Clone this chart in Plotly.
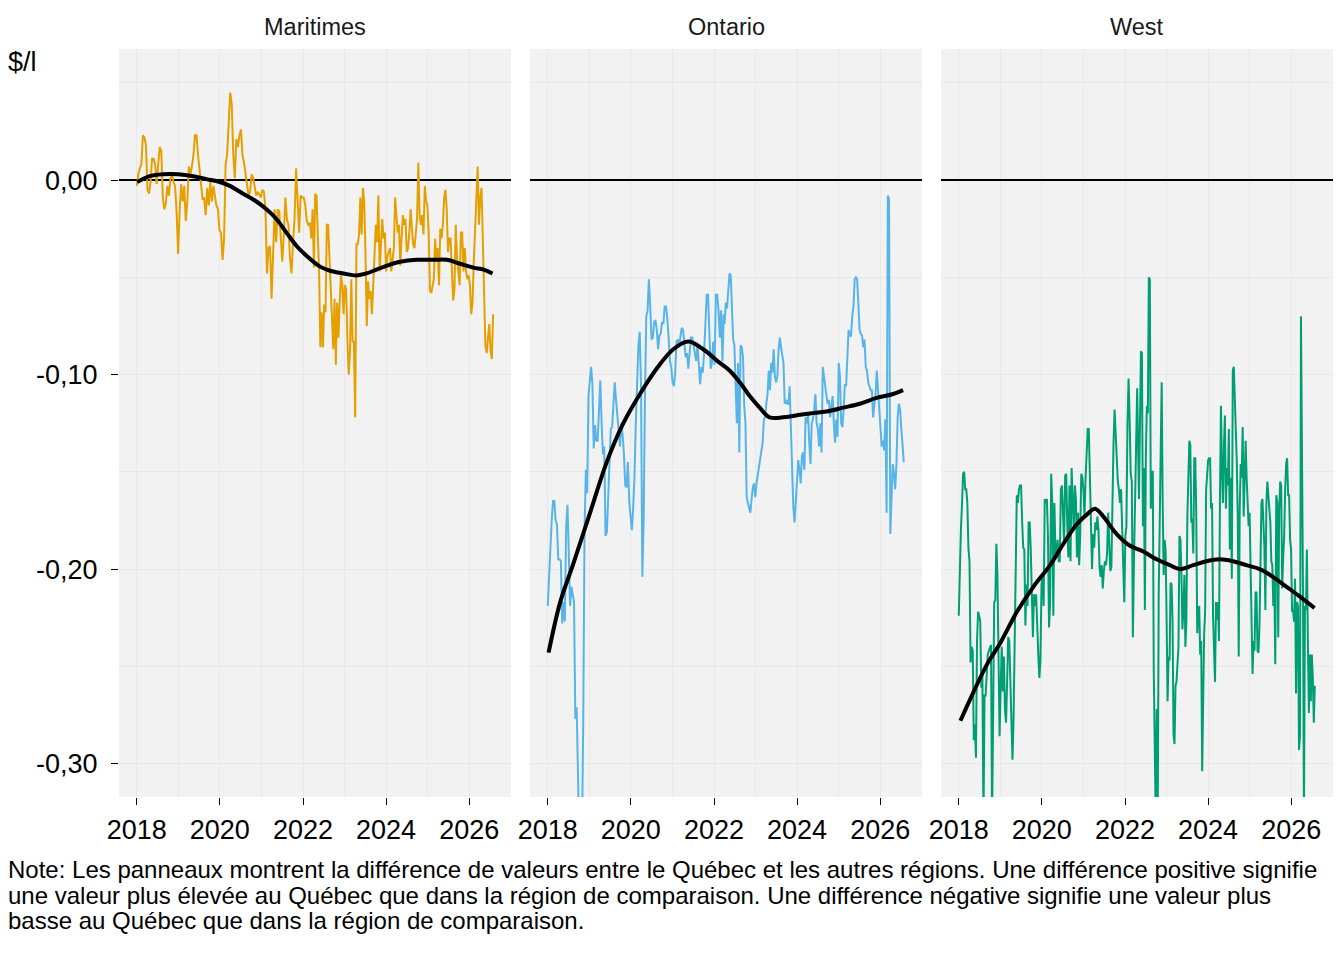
import pandas as pd
import plotly.graph_objects as go

# ---------------- data (values in $/l) ----------------
regions = ["Maritimes", "Ontario", "West"]
line_colors = ["#E69F00", "#56B4E9", "#009E73"]

# Raw weekly-ish series, split into two halves with their date spans
maritimes_span_a = ("2018-01-01", "2022-02-17")
maritimes_a = [
    -0.003, 0.003, 0.006, 0.008, 0.023, 0.022, 0.018, -0.005, -0.007, -0.001, 0.011, 0.011, 0.008,
    -0.002, 0.008, 0.017, 0.015, -0.009, -0.015, -0.012, -0.003, -0.008, 0.001, 0.003, -0.001,
    -0.003, -0.016, -0.038, -0.016, -0.002, -0.011, -0.003, -0.021, -0.011, 0.007, 0.003, 0.007,
    0.013, 0.023, 0.023, 0.013, 0.006, -0.003, -0.010, -0.009, -0.018, -0.004, -0.013, -0.001,
    -0.011, -0.003, -0.008, -0.013, -0.015, -0.026, -0.027, -0.041, -0.030, 0.008, 0.013, 0.029,
    0.045, 0.039, 0.013, 0.001, 0.021, 0.017, 0.023, 0.026, 0.013, 0.009, 0.004, -0.003, -0.008,
    -0.006, 0.003, 0.001, -0.003, -0.008, -0.006, -0.008, -0.009, -0.005, -0.006, -0.015, -0.048,
    -0.035, -0.034, -0.061, -0.033, -0.015, -0.032, -0.015, -0.016, -0.032, -0.042, -0.028, -0.009,
    -0.020, -0.023, -0.040, -0.048, -0.032, -0.020, 0.006, -0.009, -0.027, -0.008, -0.009, -0.009,
    -0.013, -0.021, -0.023,
]
maritimes_span_b = ("2022-03-04", "2026-07-30")
maritimes_b = [
    -0.022, -0.030, -0.015, -0.045, -0.007, -0.008, -0.028, -0.047, -0.086, -0.068, -0.086, -0.064,
    -0.068, -0.023, -0.023, -0.039, -0.064, -0.078, -0.087, -0.061, -0.095, -0.063, -0.081, -0.063,
    -0.049, -0.054, -0.069, -0.054, -0.056, -0.083, -0.100, -0.088, -0.051, -0.083, -0.083, -0.122,
    -0.033, -0.033, -0.028, -0.009, -0.028, -0.004, -0.011, -0.037, -0.075, -0.052, -0.061, -0.057,
    -0.069, -0.054, -0.039, -0.023, -0.032, -0.008, -0.047, -0.033, -0.020, -0.030, -0.027, -0.047,
    -0.039, -0.037, -0.035, -0.047, -0.040, -0.035, -0.009, -0.016, -0.027, -0.023, -0.044, -0.030,
    -0.018, -0.023, -0.020, -0.037, -0.035, -0.027, -0.015, -0.025, -0.033, -0.035, -0.027, -0.020,
    0.009, -0.018, -0.023, -0.018, -0.028, -0.003, -0.011, -0.013, -0.027, -0.057, -0.058, -0.054,
    -0.051, -0.030, -0.042, -0.035, -0.054, -0.025, -0.030, -0.023, -0.009, -0.005, -0.015, -0.037,
    -0.030, -0.030, -0.045, -0.062, -0.056, -0.023, -0.040, -0.047, -0.054, -0.027, -0.027, -0.047,
    -0.035, -0.047, -0.051, -0.049, -0.054, -0.069, -0.063, -0.042, -0.025, -0.001, 0.007, -0.023,
    -0.009, -0.004, -0.033, -0.069, -0.085, -0.089, -0.081, -0.074, -0.088, -0.092, -0.069,
]

ontario_span_a = ("2018-01-01", "2022-03-28")
ontario_a = [
    -0.219, -0.202, -0.187, -0.175, -0.165, -0.165, -0.175, -0.177, -0.195, -0.195, -0.196, -0.228,
    -0.217, -0.227, -0.179, -0.167, -0.191, -0.219, -0.209, -0.213, -0.217, -0.277, -0.271, -0.305,
    -0.340, -0.340, -0.340, -0.279, -0.181, -0.149, -0.161, -0.111, -0.104, -0.096, -0.105, -0.138,
    -0.126, -0.134, -0.134, -0.120, -0.103, -0.125, -0.141, -0.137, -0.183, -0.181, -0.165, -0.151,
    -0.128, -0.127, -0.113, -0.104, -0.113, -0.121, -0.133, -0.137, -0.125, -0.131, -0.141, -0.157,
    -0.158, -0.145, -0.165, -0.171, -0.180, -0.169, -0.153, -0.125, -0.103, -0.085, -0.078, -0.105,
    -0.204, -0.175, -0.111, -0.070, -0.067, -0.051, -0.065, -0.082, -0.081, -0.073, -0.072, -0.077,
    -0.087, -0.080, -0.079, -0.073, -0.074, -0.065, -0.065, -0.071, -0.081, -0.093, -0.096, -0.104,
    -0.106, -0.099, -0.083, -0.082, -0.085, -0.081, -0.076, -0.077, -0.085, -0.091, -0.089, -0.097,
    -0.089, -0.081, -0.081, -0.085, -0.087, -0.093, -0.085, -0.096, -0.105, -0.096, -0.099, -0.089,
    -0.075, -0.059, -0.059, -0.085, -0.097, -0.094, -0.083, -0.095, -0.059, -0.059, -0.067, -0.081,
    -0.067, -0.093, -0.069,
]
ontario_span_b = ("2022-04-04", "2026-07-27")
ontario_b = [
    -0.074, -0.063, -0.066, -0.057, -0.048, -0.049, -0.063, -0.082, -0.085, -0.108, -0.125, -0.094,
    -0.140, -0.085, -0.086, -0.091, -0.116, -0.125, -0.163, -0.166, -0.168, -0.171, -0.164, -0.158,
    -0.156, -0.163, -0.156, -0.152, -0.146, -0.142, -0.140, -0.135, -0.123, -0.122, -0.115, -0.110,
    -0.098, -0.108, -0.094, -0.099, -0.087, -0.101, -0.104, -0.101, -0.087, -0.081, -0.086, -0.091,
    -0.094, -0.115, -0.113, -0.115, -0.115, -0.106, -0.125, -0.155, -0.168, -0.176, -0.164, -0.156,
    -0.144, -0.149, -0.156, -0.142, -0.140, -0.149, -0.122, -0.125, -0.120, -0.135, -0.146, -0.125,
    -0.123, -0.118, -0.110, -0.125, -0.128, -0.137, -0.125, -0.140, -0.096, -0.101, -0.108, -0.111,
    -0.115, -0.113, -0.122, -0.115, -0.111, -0.125, -0.135, -0.123, -0.132, -0.094, -0.101, -0.125,
    -0.127, -0.118, -0.105, -0.106, -0.091, -0.077, -0.080, -0.080, -0.070, -0.065, -0.051, -0.050,
    -0.051, -0.069, -0.077, -0.079, -0.080, -0.086, -0.082, -0.096, -0.098, -0.104, -0.106, -0.108,
    -0.108, -0.122, -0.116, -0.110, -0.098, -0.108, -0.115, -0.128, -0.137, -0.134, -0.139, -0.123,
    -0.171, -0.008, -0.010, -0.182, -0.164, -0.146, -0.151, -0.159, -0.146, -0.122, -0.115, -0.118,
    -0.128, -0.137, -0.145,
]

west_span_a = ("2018-01-01", "2022-04-18")
west_a = [
    -0.224, -0.199, -0.180, -0.167, -0.151, -0.150, -0.159, -0.159, -0.166, -0.189, -0.196, -0.248,
    -0.240, -0.242, -0.288, -0.280, -0.297, -0.237, -0.222, -0.224, -0.227, -0.261, -0.254, -0.330,
    -0.265, -0.265, -0.251, -0.244, -0.242, -0.240, -0.239, -0.330, -0.267, -0.217, -0.216, -0.187,
    -0.203, -0.261, -0.286, -0.261, -0.240, -0.263, -0.245, -0.272, -0.279, -0.258, -0.235, -0.237,
    -0.254, -0.272, -0.298, -0.277, -0.235, -0.189, -0.162, -0.166, -0.159, -0.157, -0.157, -0.176,
    -0.189, -0.190, -0.229, -0.208, -0.219, -0.176, -0.176, -0.190, -0.224, -0.235, -0.213, -0.219,
    -0.213, -0.233, -0.244, -0.256, -0.247, -0.208, -0.203, -0.219, -0.164, -0.166, -0.164, -0.183,
    -0.230, -0.217, -0.151, -0.166, -0.224, -0.166, -0.192, -0.192, -0.185, -0.196, -0.196, -0.159,
    -0.157, -0.171, -0.187, -0.152, -0.151, -0.178, -0.194, -0.157, -0.196, -0.148, -0.169, -0.180,
    -0.157, -0.164, -0.194, -0.171, -0.198, -0.183, -0.151, -0.153, -0.159, -0.173, -0.153, -0.142,
    -0.128, -0.128, -0.159, -0.189, -0.200, -0.182, -0.189, -0.176, -0.180, -0.173, -0.180, -0.199,
    -0.204, -0.198, -0.210, -0.201, -0.196, -0.198, -0.192, -0.171, -0.187, -0.201, -0.199, -0.155,
    -0.135, -0.118, -0.130, -0.146, -0.155, -0.159, -0.166, -0.159, -0.176, -0.196, -0.217, -0.183,
    -0.178, -0.125, -0.102, -0.123, -0.151, -0.155, -0.235, -0.196, -0.171, -0.132, -0.107,
]
west_span_b = ("2022-04-25", "2026-07-27")
west_b = [
    -0.132, -0.164, -0.127, -0.088, -0.089, -0.178, -0.148, -0.221, -0.141, -0.116, -0.120, -0.050,
    -0.051, -0.169, -0.150, -0.150, -0.253, -0.295, -0.330, -0.272, -0.330, -0.213, -0.166, -0.116,
    -0.104, -0.164, -0.203, -0.185, -0.191, -0.226, -0.268, -0.245, -0.247, -0.207, -0.208, -0.226,
    -0.285, -0.290, -0.260, -0.258, -0.247, -0.240, -0.183, -0.185, -0.203, -0.231, -0.221, -0.203,
    -0.240, -0.227, -0.173, -0.144, -0.134, -0.136, -0.176, -0.174, -0.192, -0.143, -0.143, -0.171,
    -0.233, -0.222, -0.219, -0.244, -0.237, -0.304, -0.256, -0.233, -0.222, -0.159, -0.152, -0.144,
    -0.143, -0.143, -0.169, -0.166, -0.224, -0.247, -0.258, -0.217, -0.226, -0.217, -0.237, -0.164,
    -0.116, -0.148, -0.166, -0.137, -0.121, -0.169, -0.148, -0.157, -0.128, -0.190, -0.153, -0.205,
    -0.098, -0.096, -0.109, -0.123, -0.144, -0.173, -0.245, -0.169, -0.146, -0.153, -0.127, -0.173,
    -0.146, -0.134, -0.153, -0.166, -0.178, -0.171, -0.199, -0.221, -0.254, -0.237, -0.242, -0.212,
    -0.212, -0.242, -0.243, -0.229, -0.194, -0.166, -0.164, -0.180, -0.189, -0.221, -0.166, -0.155,
    -0.162, -0.171, -0.176, -0.196, -0.198, -0.219, -0.205, -0.249, -0.162, -0.166, -0.235, -0.169,
    -0.155, -0.157, -0.210, -0.194, -0.183, -0.159, -0.146, -0.143, -0.162, -0.162, -0.185, -0.190,
    -0.222, -0.221, -0.227, -0.205, -0.264, -0.217, -0.219, -0.293, -0.286, -0.070, -0.139, -0.206,
    -0.330, -0.219, -0.221, -0.190, -0.237, -0.274, -0.244, -0.268, -0.244, -0.256, -0.279, -0.260,
]

# Smoothed trend (loess-like) points: decimal years and values
maritimes_trend_years = [2018.01, 2018.31, 2018.63, 2019.0, 2019.36, 2019.68, 2020.0, 2020.24, 2020.56,
                         2020.88, 2021.12, 2021.36, 2021.6, 2021.85, 2022.09, 2022.41, 2022.65, 2022.97,
                         2023.29, 2023.53, 2023.77, 2024.02, 2024.34, 2024.74, 2025.14, 2025.46, 2025.78,
                         2026.1, 2026.35, 2026.56]
maritimes_trend = [-0.001, 0.002, 0.003, 0.003, 0.002, 0.0005, -0.001, -0.003, -0.007,
                   -0.011, -0.015, -0.020, -0.027, -0.034, -0.039, -0.0445, -0.0466, -0.048,
                   -0.049, -0.048, -0.046, -0.044, -0.042, -0.041, -0.041, -0.041, -0.043,
                   -0.045, -0.046, -0.048]

ontario_trend_years = [2018.02, 2018.30, 2018.62, 2019.02, 2019.42, 2019.82, 2020.22, 2020.62, 2021.02,
                       2021.38, 2021.74, 2022.14, 2022.38, 2022.62, 2022.86, 2023.10, 2023.34, 2023.66,
                       2023.98, 2024.31, 2024.71, 2025.11, 2025.51, 2025.91, 2026.31, 2026.55]
ontario_trend = [-0.243, -0.217, -0.197, -0.171, -0.145, -0.125, -0.110, -0.097, -0.087,
                 -0.083, -0.087, -0.094, -0.098, -0.104, -0.111, -0.117, -0.122, -0.122,
                 -0.121, -0.120, -0.119, -0.117, -0.115, -0.112, -0.110, -0.108]

west_trend_years = [2018.04, 2018.36, 2018.68, 2019.0, 2019.4, 2019.8, 2020.2, 2020.52, 2020.84,
                    2021.08, 2021.28, 2021.48, 2021.8, 2022.12, 2022.44, 2022.76, 2023.08, 2023.32,
                    2023.64, 2023.96, 2024.28, 2024.6, 2024.92, 2025.24, 2025.56, 2025.88, 2026.2,
                    2026.56]
west_trend = [-0.278, -0.263, -0.249, -0.238, -0.222, -0.209, -0.198, -0.187, -0.177,
              -0.172, -0.169, -0.173, -0.182, -0.188, -0.191, -0.195, -0.198, -0.200,
              -0.198, -0.196, -0.195, -0.196, -0.198, -0.200, -0.204, -0.209, -0.214,
              -0.220]

x_tick_years = [2018, 2020, 2022, 2024, 2026]
x_minor_years = [2019, 2021, 2023, 2025]
y_tick_values = [-0.3, -0.2, -0.1, 0.0]
y_tick_labels = ["-0,30", "-0,20", "-0,10", "0,00"]
y_minor_values = [-0.25, -0.15, -0.05, 0.05]

note_lines = [
    "Note: Les panneaux montrent la différence de valeurs entre le Québec et les autres régions. Une différence positive signifie",
    "une valeur plus élevée au Québec que dans la région de comparaison. Une différence négative signifie une valeur plus",
    "basse au Québec que dans la région de comparaison.",
]
y_title = "$/l"


# ---------------- helpers ----------------
def series_dates(span, values):
    return pd.date_range(span[0], span[1], periods=len(values))


def year_to_date(y):
    base = int(y)
    return pd.Timestamp(year=base, month=1, day=1) + pd.Timedelta(days=(y - base) * 365.25)


raw = [
    (maritimes_span_a, maritimes_a, maritimes_span_b, maritimes_b),
    (ontario_span_a, ontario_a, ontario_span_b, ontario_b),
    (west_span_a, west_a, west_span_b, west_b),
]
trends = [
    (maritimes_trend_years, maritimes_trend),
    (ontario_trend_years, ontario_trend),
    (west_trend_years, west_trend),
]

FONT = "Liberation Sans, Arial, sans-serif"
fig = go.Figure()

for i, (region, color) in enumerate(zip(regions, line_colors)):
    sa, va, sb, vb = raw[i]
    xs = list(series_dates(sa, va)) + list(series_dates(sb, vb))
    ys = list(va) + list(vb)
    xa = "x" if i == 0 else f"x{i + 1}"
    ya = "y" if i == 0 else f"y{i + 1}"
    fig.add_trace(go.Scatter(x=xs, y=ys, mode="lines", line=dict(color=color, width=2),
                             xaxis=xa, yaxis=ya, showlegend=False, hoverinfo="skip"))
    ty, tv = trends[i]
    fig.add_trace(go.Scatter(x=[year_to_date(t) for t in ty], y=tv, mode="lines",
                             line=dict(color="black", width=4, shape="spline", smoothing=1.0),
                             xaxis=xa, yaxis=ya, showlegend=False, hoverinfo="skip"))

# ---------------- layout ----------------
W, H = 1344, 960
ML, MR, MT, MB = 119, 11, 49, 163
plot_w = W - ML - MR
plot_h = H - MT - MB
panel_w = 392
gap = 19
domains = []
for i in range(3):
    left = i * (panel_w + gap)
    domains.append([left / plot_w, (left + panel_w) / plot_w])

x_range = ["2017-07-29", "2027-01-03"]
y_range = [-0.3172, 0.0674]
grid_col = "#E8E8E8"

layout = dict(
    width=W, height=H,
    margin=dict(l=ML, r=MR, t=MT, b=MB, pad=0),
    paper_bgcolor="white",
    plot_bgcolor="#F2F2F2",
    font=dict(family=FONT, color="black"),
    showlegend=False,
)
for i in range(3):
    key = "xaxis" if i == 0 else f"xaxis{i + 1}"
    layout[key] = dict(
        domain=domains[i], anchor="y" if i == 0 else f"y{i + 1}",
        type="date", range=x_range,
        tickvals=[f"{y}-01-01" for y in x_tick_years],
        ticktext=[str(y) for y in x_tick_years],
        ticks="outside", ticklen=7, tickwidth=1, tickcolor="black",
        tickfont=dict(size=27, color="black", family=FONT),
        ticklabelstandoff=2,
        showgrid=True, gridcolor=grid_col, gridwidth=1.2,
        minor=dict(tickvals=[f"{y}-01-01" for y in x_minor_years], showgrid=True,
                   gridcolor=grid_col, gridwidth=1.2, ticks=""),
        showline=False, zeroline=False, fixedrange=True,
    )
    ykey = "yaxis" if i == 0 else f"yaxis{i + 1}"
    ydict = dict(
        anchor="x" if i == 0 else f"x{i + 1}",
        domain=[0, 1], range=y_range,
        tickvals=y_tick_values, ticktext=y_tick_labels,
        showgrid=True, gridcolor=grid_col, gridwidth=1.2,
        minor=dict(tickvals=y_minor_values, showgrid=True, gridcolor=grid_col,
                   gridwidth=1.2, ticks=""),
        zeroline=True, zerolinecolor="black", zerolinewidth=1.6,
        showline=False, fixedrange=True,
    )
    if i == 0:
        ydict.update(ticks="outside", ticklen=7, tickwidth=1, tickcolor="black",
                     tickfont=dict(size=27, color="black", family=FONT),
                     ticklabelstandoff=8, showticklabels=True)
    else:
        ydict.update(matches="y", ticks="", showticklabels=False)
    layout[ykey] = ydict

fig.update_layout(**layout)


def px_to_paper_x(px):
    return (px - ML) / plot_w


def px_to_paper_y(py):
    return (H - MB - py) / plot_h


annotations = []
for i, region in enumerate(regions):
    annotations.append(dict(
        text=region, xref="paper", yref="paper",
        x=(domains[i][0] + domains[i][1]) / 2, y=px_to_paper_y(27),
        xanchor="center", yanchor="middle", showarrow=False,
        font=dict(size=23.5, color="#1A1A1A", family=FONT),
    ))
annotations.append(dict(
    text=y_title, xref="paper", yref="paper", x=px_to_paper_x(6), y=px_to_paper_y(62),
    xanchor="left", yanchor="middle", showarrow=False,
    font=dict(size=27, color="black", family=FONT),
))
for j, (line, py) in enumerate(zip(note_lines, [869, 895, 920])):
    annotations.append(dict(
        text=line, xref="paper", yref="paper", x=px_to_paper_x(6), y=px_to_paper_y(py),
        xanchor="left", yanchor="middle", showarrow=False,
        font=dict(size=24, color="black", family=FONT),
    ))
fig.update_layout(annotations=annotations)

fig.write_html("out.html", config={"displayModeBar": False},
               post_script="document.body.style.margin='0px';document.body.style.padding='0px';")
